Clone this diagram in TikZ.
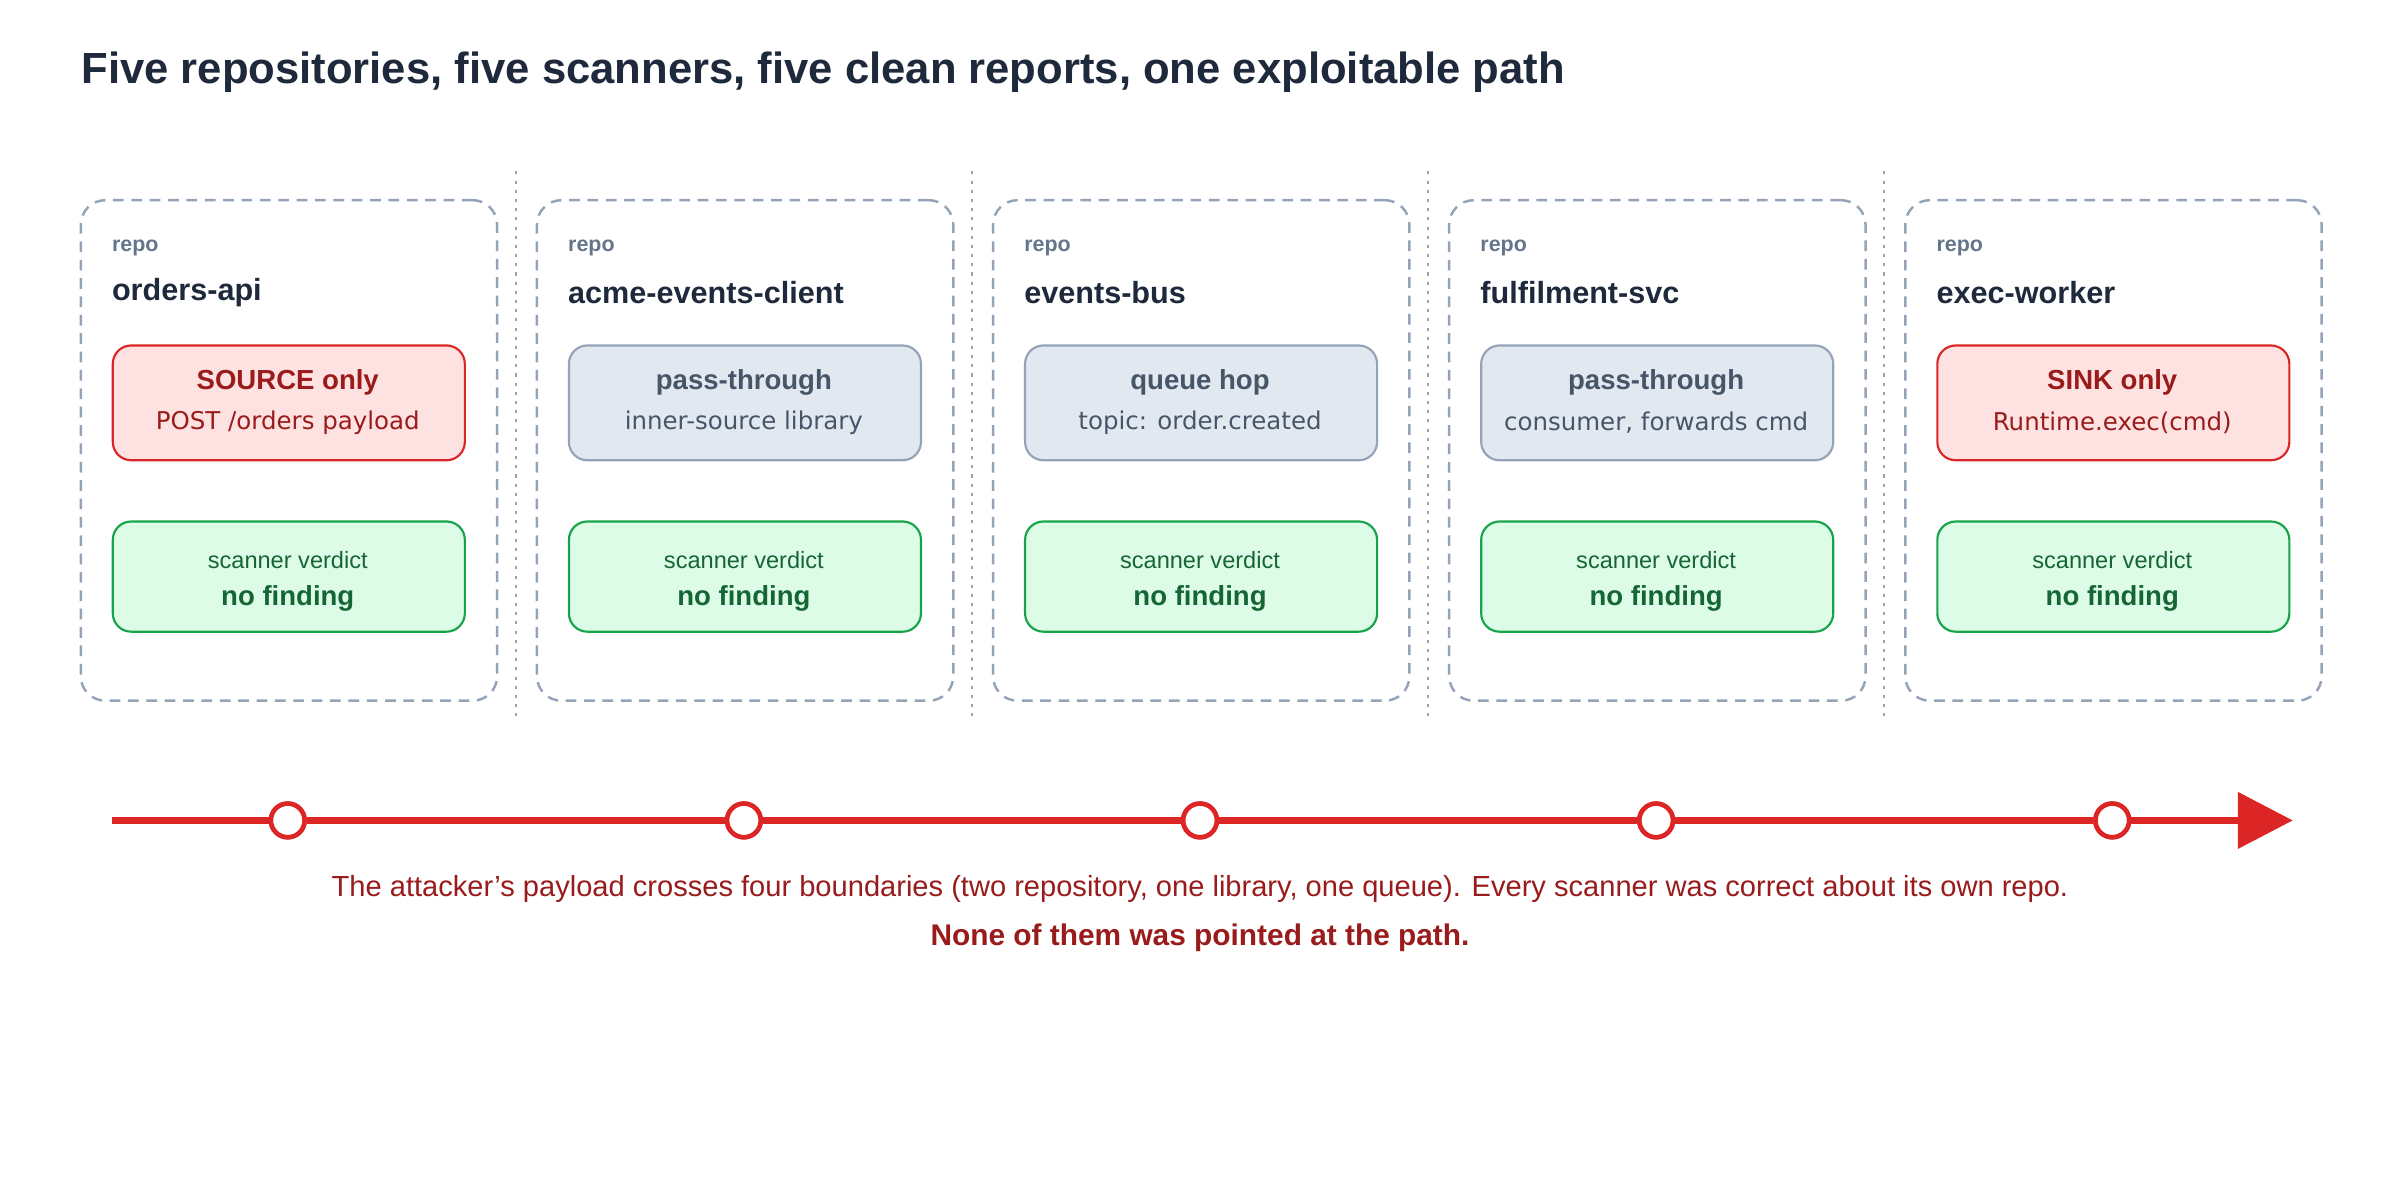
\documentclass[tikz,border=0pt]{standalone}
\usepackage{fontspec}
\setmainfont{Liberation Sans}
\newfontfamily\dejavu{DejaVu Sans}
\usetikzlibrary{arrows.meta}
\definecolor{redf}{HTML}{FEE2E2}\definecolor{redd}{HTML}{DC2626}\definecolor{redt}{HTML}{991B1B}
\definecolor{grayf}{HTML}{E2E8F0}\definecolor{grayd}{HTML}{94A3B8}\definecolor{grayt}{HTML}{334155}\definecolor{grayt2}{HTML}{475569}
\definecolor{greenf}{HTML}{DCFCE7}\definecolor{greend}{HTML}{16A34A}\definecolor{greent}{HTML}{166534}
\definecolor{dark}{HTML}{1E293B}\definecolor{lbl}{HTML}{64748B}
\tikzset{
 repobox/.style={draw=grayd,line width=1.6pt,dash pattern=on 7pt off 5pt,rounded corners=16pt,minimum width=272pt,minimum height=327pt,anchor=north west},
 inbox/.style={line width=1.4pt,rounded corners=12pt,minimum width=230pt,minimum height=75pt,anchor=north west},
 redbox/.style={inbox,draw=redd,fill=redf},
 graybox/.style={inbox,draw=grayd,fill=grayf},
 verd/.style={inbox,draw=greend,fill=greenf,minimum height=72pt},
 dot/.style={circle,draw=redd,fill=white,line width=3pt,minimum size=22pt,inner sep=0pt},
 divider/.style={draw=grayd,line width=1.4pt,dash pattern=on 2pt off 4pt},
}
\begin{document}
\begin{tikzpicture}[x=1pt,y=-1pt]
\useasboundingbox (0,0) rectangle (1568,784);
\node[anchor=west,font=\fontsize{28.5}{32}\selectfont\bfseries,text=dark,inner sep=0] (title) at (53,47) {Five repositories, five scanners, five clean reports, one exploitable path};
\foreach \i/\name/\sty/\ta/\tb/\tc [count=\k from 0] in {
  a/orders-api/redbox/SOURCE only/{POST /orders payload}/redt,
  b/acme-events-client/graybox/pass-through/inner-source library/grayt2,
  c/events-bus/graybox/queue hop/topic: order.created/grayt2,
  d/fulfilment-svc/graybox/pass-through/{consumer, forwards cmd}/grayt2,
  e/exec-worker/redbox/SINK only/Runtime.exec(cmd)/redt}{
  \pgfmathsetmacro\X{52+298*\k}
  \node[repobox] (repo\i) at (\X,130) {};
  \node[anchor=west,inner sep=0,text=lbl,font=\fontsize{14}{16}\selectfont\bfseries] (lab\i) at (\X+21,162) {repo};
  \node[anchor=west,inner sep=0,text=dark,font=\fontsize{20}{24}\selectfont\bfseries] (nm\i) at (\X+21,191) {\name};
  \node[\sty] (role\i) at (\X+21,225) {};
  \node[text=\tc,font=\fontsize{18}{21}\selectfont\bfseries,inner sep=0] (rt\i) at (\X+136,250) {\ta};
  \node[text=\tc,font=\dejavu\fontsize{16}{19}\selectfont,inner sep=0] (rs\i) at (\X+136,276) {\tb};
  \node[verd] (v\i) at (\X+21,340) {};
  \node[text=greent,font=\fontsize{15.4}{18}\selectfont,inner sep=0] (vt\i) at (\X+136,366) {scanner verdict};
  \node[text=greent,font=\fontsize{18}{21}\selectfont\bfseries,inner sep=0] (vn\i) at (\X+136,391) {no finding};
  \node[dot] (p\i) at (\X+136,536) {};
}
\foreach \k in {0,...,3}{\pgfmathsetmacro\D{337+298*\k}\draw[divider] (\D,112) -- (\D,470);}
\coordinate (s) at (73,536);
\coordinate (t) at (1498,536);
\draw[redd,line width=5pt,-{Triangle[length=36pt,width=36pt]}] (s) -- (pa) (pa) -- (pb) (pb) -- (pc) (pc) -- (pd) (pd) -- (pe) (pe) -- (t);
\foreach \i in {a,b,c,d,e}{\node[dot] at (p\i) {};}
\node[text=redt,font=\fontsize{19}{22}\selectfont,inner sep=0] (cap1) at (784,581) {The attacker{\char39}s payload crosses four boundaries (two repository, one library, one queue). Every scanner was correct about its own repo.};
\node[text=redt,font=\fontsize{19.5}{22}\selectfont\bfseries,inner sep=0] (cap2) at (784,613) {None of them was pointed at the path.};
\end{tikzpicture}
\end{document}
